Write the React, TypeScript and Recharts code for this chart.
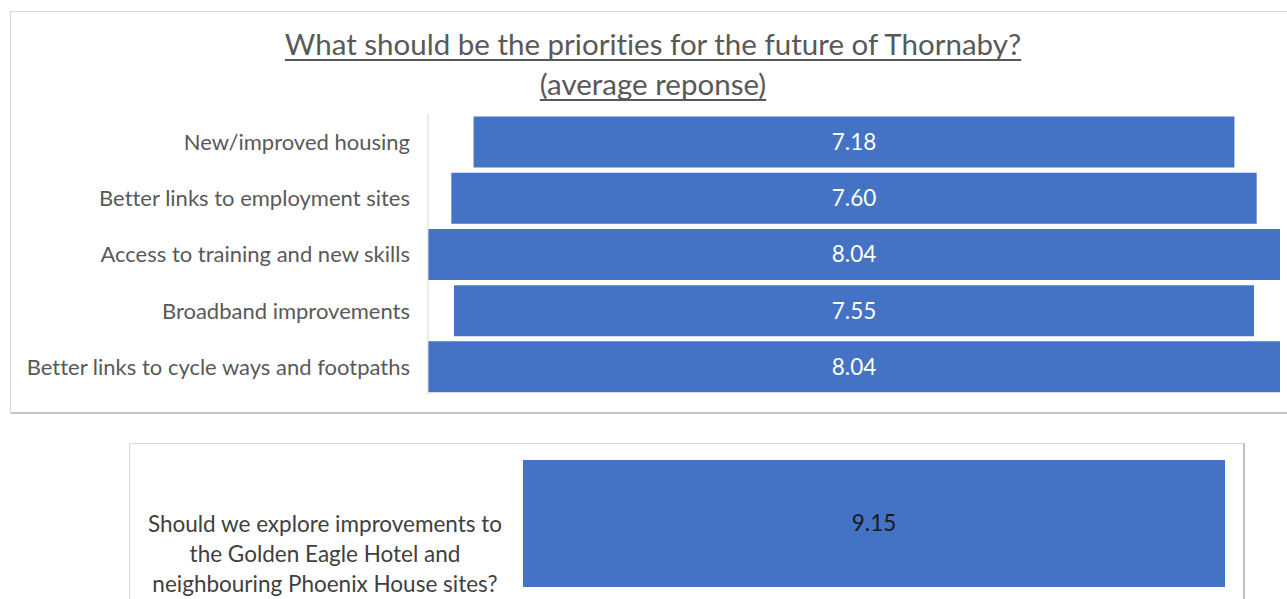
import React from "react";
import { BarChart, Bar, XAxis, YAxis, LabelList } from "recharts";

const categories = [
  "New/improved housing",
  "Better links to employment sites",
  "Access to training and new skills",
  "Broadband improvements",
  "Better links to cycle ways and footpaths",
];
const averages = [7.18, 7.6, 8.04, 7.55, 8.04];

const secondCategoryLines = [
  "Should we explore improvements to",
  "the Golden Eagle Hotel and",
  "neighbouring Phoenix House sites?",
];
const secondValues = [9.15];

const FONT = "Lato, 'Open Sans', sans-serif";
const BLUE = "#4472C4";

const maxAvg = Math.max(...averages);
const topData = categories.map((c, i) => ({
  name: c,
  pad: (maxAvg - averages[i]) / 2,
  value: averages[i],
}));

const bottomData = [
  { name: secondCategoryLines.join(" "), value: secondValues[0] },
];

const BottomTick = (props: any) => {
  const { y } = props;
  return (
    <text
      x={325}
      y={y}
      textAnchor="middle"
      fill="#404040"
      fontFamily={FONT}
      fontSize={22.5}
    >
      {secondCategoryLines.map((l, i) => (
        <tspan key={i} x={325} dy={i === 0 ? 8 : 30}>
          {l}
        </tspan>
      ))}
    </text>
  );
};

export default function App() {
  return (
    <div
      style={{
        position: "absolute",
        left: 0,
        top: 0,
        width: 1287,
        height: 599,
        overflow: "hidden",
        background: "#fff",
        fontFamily: FONT,
        fontVariantLigatures: "none",
      }}
    >
      {/* top panel border */}
      <div
        style={{
          position: "absolute",
          left: 10,
          top: 11,
          width: 1300,
          height: 400,
          borderTop: "1px solid #d9d9d9",
          borderLeft: "1px solid #d9d9d9",
          borderBottom: "2px solid #c6c6c6",
        }}
      />
      {/* bottom panel border */}
      <div
        style={{
          position: "absolute",
          left: 129,
          top: 443,
          width: 1113,
          height: 200,
          borderTop: "1px solid #d9d9d9",
          borderLeft: "1px solid #d9d9d9",
          borderRight: "2px solid #bfbfbf",
        }}
      />
      <div
        style={{
          position: "absolute",
          left: 0,
          top: 24,
          width: 1306,
          textAlign: "center",
          color: "#595959",
          fontSize: 29.5,
          lineHeight: "40px",
          textDecoration: "underline",
          textDecorationThickness: 1.5,
          textUnderlineOffset: 4,
          textDecorationSkipInk: "none",
        }}
      >
        What should be the priorities for the future of Thornaby?
        <br />
        (average reponse)
      </div>
      <div style={{ position: "absolute", left: 0, top: 0 }}>
        <BarChart
          width={1287}
          height={420}
          data={topData}
          layout="vertical"
          margin={{ top: 114, right: 7, bottom: 25, left: 0 }}
          barCategoryGap="4.5%"
        >
          <XAxis type="number" hide domain={[0, maxAvg]} />
          <YAxis
            type="category"
            dataKey="name"
            width={428}
            tickLine={false}
            tickSize={0}
            tickMargin={18}
            axisLine={{ stroke: "#d9d9d9" }}
            tick={{ fill: "#595959", fontSize: 22, fontFamily: FONT }}
            interval={0}
          />
          <Bar dataKey="pad" stackId="a" fill="transparent" isAnimationActive={false} />
          <Bar dataKey="value" stackId="a" fill={BLUE} isAnimationActive={false}>
            <LabelList
              dataKey="value"
              position="center"
              fill="#ffffff"
              fontSize={22.5}
              fontFamily={FONT}
              formatter={(v: any) => Number(v).toFixed(2)}
            />
          </Bar>
        </BarChart>
      </div>
      <div style={{ position: "absolute", left: 0, top: 0 }}>
        <BarChart
          width={1287}
          height={599}
          data={bottomData}
          layout="vertical"
          margin={{ top: 460, right: 62, bottom: 12, left: 0 }}
          barCategoryGap={0}
        >
          <XAxis type="number" hide domain={[0, secondValues[0]]} />
          <YAxis
            type="category"
            dataKey="name"
            width={523}
            axisLine={false}
            tickLine={false}
            tick={<BottomTick />}
          />
          <Bar dataKey="value" fill={BLUE} isAnimationActive={false}>
            <LabelList
              dataKey="value"
              position="center"
              fill="#1a1a1a"
              fontSize={22.5}
              fontFamily={FONT}
              formatter={(v: any) => Number(v).toFixed(2)}
            />
          </Bar>
        </BarChart>
      </div>
    </div>
  );
}
